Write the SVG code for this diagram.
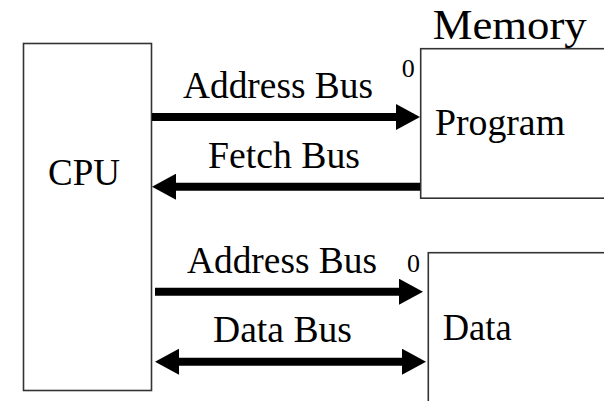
<svg xmlns="http://www.w3.org/2000/svg" width="604" height="401" viewBox="0 0 604 401">
<style>
.box{fill:#fff;stroke:#333;stroke-width:1.6}
text{font-family:"Liberation Serif","Times New Roman",serif;fill:#000}
.lbl{font-size:37px;text-anchor:middle}
.zero{font-size:26px}
.bus{stroke:#000;stroke-width:8;fill:none}
</style>
<defs>
<marker id="ah" viewBox="0 0 24 26" markerWidth="24" markerHeight="26" refX="4" refY="13" markerUnits="userSpaceOnUse" orient="auto-start-reverse">
<path d="M0,0 L24,13 L0,26 z" fill="#000"/>
</marker>
</defs>
<rect width="604" height="401" fill="#fff"/>
<g id="cpu">
<rect class="box" x="23.5" y="43.5" width="128" height="347"/>
<text x="48" y="185" font-size="37" textLength="72" lengthAdjust="spacingAndGlyphs">CPU</text>
</g>
<g id="program">
<rect class="box" x="420.7" y="48.7" width="200" height="149.5"/>
<text x="435" y="135" font-size="37" textLength="130" lengthAdjust="spacingAndGlyphs">Program</text>
<text class="zero" x="401.7" y="76.7" textLength="13" lengthAdjust="spacingAndGlyphs">0</text>
</g>
<g id="data">
<rect class="box" x="428.3" y="252.7" width="200" height="170"/>
<text x="442.7" y="340" font-size="37" textLength="69" lengthAdjust="spacingAndGlyphs">Data</text>
<text class="zero" x="407" y="271.7" textLength="13" lengthAdjust="spacingAndGlyphs">0</text>
</g>
<text id="memory" x="432.7" y="38.5" font-size="43" textLength="154" lengthAdjust="spacingAndGlyphs">Memory</text>
<g id="connectors">
<line class="bus" x1="152" y1="117" x2="400" y2="117" marker-end="url(#ah)"/>
<line class="bus" x1="420" y1="186.7" x2="172" y2="186.7" marker-end="url(#ah)"/>
<line class="bus" x1="155" y1="291.7" x2="403" y2="291.7" marker-end="url(#ah)"/>
<line class="bus" x1="175" y1="361.7" x2="406" y2="361.7" marker-start="url(#ah)" marker-end="url(#ah)"/>
<text class="lbl" x="278" y="98" textLength="190" lengthAdjust="spacingAndGlyphs">Address Bus</text>
<text class="lbl" x="284" y="168.3" textLength="152" lengthAdjust="spacingAndGlyphs">Fetch Bus</text>
<text class="lbl" x="282" y="273.3" textLength="190" lengthAdjust="spacingAndGlyphs">Address Bus</text>
<text class="lbl" x="282.5" y="341.7" textLength="139" lengthAdjust="spacingAndGlyphs">Data Bus</text>
</g>
</svg>
